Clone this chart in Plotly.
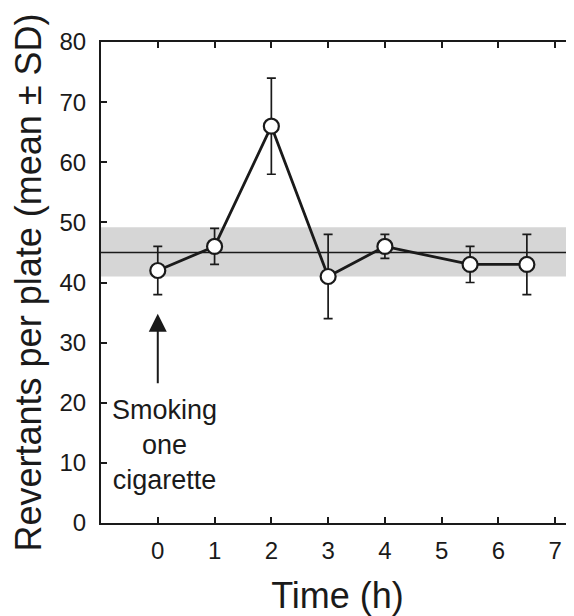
import plotly.graph_objects as go

# ---- data ----
time_h = [0, 1, 2, 3, 4, 5.5, 6.5]
revertants_mean = [42, 46, 66, 41, 46, 43, 43]
revertants_sd = [4, 3, 8, 7, 2, 3, 5]

control_mean = 45
control_low = 41
control_high = 49.2

x_ticks = [0, 1, 2, 3, 4, 5, 6, 7]
y_ticks = [0, 10, 20, 30, 40, 50, 60, 70, 80]

arrow_x = 0
arrow_tip = 34.8
arrow_tail = 23
note_text = "Smoking<br>one<br>cigarette"
note_x = 0.11
note_y = 12.9

FONT = "Liberation Sans, Arial, Helvetica, sans-serif"
INK = "#1a1a1a"

fig = go.Figure()

fig.add_trace(go.Scatter(
    x=time_h, y=revertants_mean,
    mode="lines+markers",
    line=dict(color=INK, width=2.8),
    marker=dict(size=15, color="white", line=dict(color=INK, width=2.2)),
    error_y=dict(type="data", array=revertants_sd, visible=True,
                 color=INK, thickness=1.7, width=4.5),
    showlegend=False,
    cliponaxis=False,
))

# control band and mean line
fig.add_shape(type="rect", xref="paper", x0=0, x1=1, yref="y",
              y0=control_low, y1=control_high,
              fillcolor="rgb(214,214,214)", line=dict(width=0), layer="below")
fig.add_shape(type="line", xref="paper", x0=0, x1=1, yref="y",
              y0=control_mean, y1=control_mean,
              line=dict(color=INK, width=1.6), layer="below")

# arrow
fig.add_annotation(x=arrow_x, y=arrow_tip, ax=arrow_x, ay=arrow_tail,
                   xref="x", yref="y", axref="x", ayref="y",
                   text="", showarrow=True, arrowhead=2, arrowsize=1.8,
                   arrowwidth=2, arrowcolor=INK, standoff=0, startstandoff=0)

fig.add_annotation(x=note_x, y=note_y, xref="x", yref="y",
                   text=note_text, showarrow=False,
                   font=dict(family=FONT, size=27, color=INK),
                   xanchor="center", yanchor="middle", align="center")

# page body has an 8px default margin; size the figure to fit the window
fig.update_layout(
    width=566, height=608,
    margin=dict(l=93, r=0, t=34, b=93),
    paper_bgcolor="white", plot_bgcolor="white",
    font=dict(family=FONT, color=INK),
)

fig.update_xaxes(
    range=[-1.0, 7.33], tickvals=x_ticks, ticktext=[str(t) for t in x_ticks],
    showgrid=False, zeroline=False, automargin=False,
    showline=True, linecolor=INK, linewidth=2.2, mirror="ticks",
    ticks="inside", ticklen=6, tickwidth=1.5, tickcolor=INK,
    tickfont=dict(family=FONT, size=24, color=INK),
    ticklabelstandoff=5,
    title=dict(text="Time (h)", font=dict(family=FONT, size=36, color=INK), standoff=22),
)
fig.update_yaxes(
    range=[0, 80], tickvals=y_ticks, ticktext=[str(t) for t in y_ticks],
    showgrid=False, zeroline=False, automargin=False,
    showline=True, linecolor=INK, linewidth=2.2, mirror=False,
    ticks="inside", ticklen=6, tickwidth=1.5, tickcolor=INK,
    tickfont=dict(family=FONT, size=24, color=INK),
    ticklabelstandoff=8,
    title=dict(text="Revertants per plate (mean ± SD)",
               font=dict(family=FONT, size=36, color=INK), standoff=10),
)

fig.write_html("out.html")
